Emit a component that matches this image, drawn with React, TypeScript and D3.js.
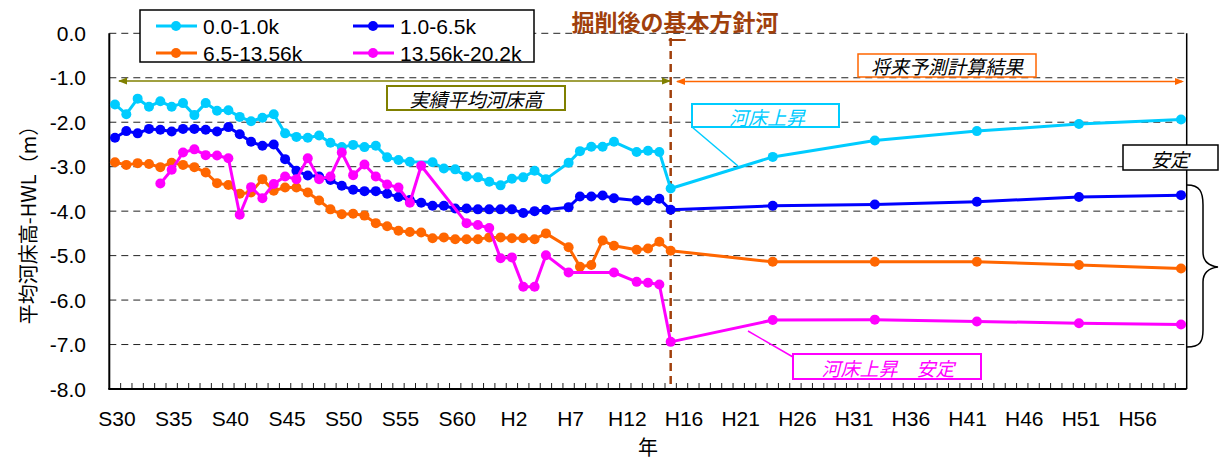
import * as d3 from 'd3';

// 95 yearly categories (S30 ... H60), labels every 5th category
const nCategories = 95;
const tickLabels = ['S30', 'S35', 'S40', 'S45', 'S50', 'S55', 'S60', 'H2', 'H7', 'H12', 'H16', 'H21', 'H26', 'H31', 'H36', 'H41', 'H46', 'H51', 'H56'];
const yTicks = [0, -1, -2, -3, -4, -5, -6, -7, -8];

// measured values, category index 0..49 (null = no survey)
const cyanMeasured = [
  -1.6, -1.82, -1.47, -1.65, -1.53, -1.65, -1.57, -1.84, -1.57, -1.74,
  -1.73, -1.88, -1.98, -1.9, -1.82, -2.25, -2.33, -2.35, -2.3, -2.46,
  -2.56, -2.51, -2.56, -2.53, -2.79, -2.85, -2.89, null, -2.9, -3.04,
  -3.06, -3.22, -3.24, -3.34, -3.42, -3.27, -3.24, -3.09, -3.28, null,
  -2.91, -2.65, -2.55, -2.55, -2.44, null, -2.67, -2.64, -2.67, -3.49,
];
const blueMeasured = [
  -2.35, -2.2, -2.25, -2.15, -2.17, -2.21, -2.15, -2.15, -2.17, -2.21,
  -2.11, -2.27, -2.44, -2.53, -2.5, -2.83, -3.09, -3.2, -3.22, -3.3,
  -3.43, -3.52, -3.55, -3.55, -3.61, -3.68, -3.75, -3.81, -3.88, -3.88,
  -3.94, -3.94, -3.96, -3.96, -3.96, -3.96, -4.04, -4.0, -3.97, null,
  -3.91, -3.67, -3.67, -3.65, -3.71, null, -3.76, -3.76, -3.72, -3.97,
];
const orangeMeasured = [
  -2.9, -2.96, -2.92, -2.94, -3.01, -2.91, -2.96, -3.01, -3.13, -3.37,
  -3.41, -3.61, -3.58, -3.28, -3.54, -3.47, -3.47, -3.58, -3.76, -3.96,
  -4.07, -4.06, -4.1, -4.27, -4.34, -4.44, -4.47, -4.48, -4.61, -4.59,
  -4.63, -4.63, -4.63, -4.59, -4.59, -4.61, -4.61, -4.63, -4.5, null,
  -4.81, -5.25, -5.21, -4.66, -4.78, null, -4.87, -4.84, -4.69, -4.89,
];
const magentaMeasured = [
  null, null, null, null, -3.38, -3.07, -2.68, -2.61, -2.74, -2.75,
  -2.81, -4.08, -3.46, -3.71, -3.39, -3.22, -3.28, -2.81, -3.28, -3.22,
  -2.68, -3.19, -2.95, -3.22, -3.4, -3.47, -3.81, -2.98, null, null,
  null, -4.27, -4.31, -4.38, -5.06, -5.04, -5.7, -5.7, -4.99, null,
  -5.38, null, null, null, -5.38, null, -5.59, -5.61, -5.65, -6.94,
];

// forecast results
const forecastIdx = [49, 58, 67, 76, 85, 94];
const cyanForecast = [-3.49, -2.78, -2.41, -2.2, -2.04, -1.94];
const blueForecast = [-3.97, -3.88, -3.85, -3.79, -3.68, -3.64];
const orangeForecast = [-4.89, -5.14, -5.14, -5.14, -5.21, -5.29];
const magentaForecast = [-6.94, -6.45, -6.44, -6.48, -6.52, -6.55];

const seriesNames = ['0.0-1.0k', '1.0-6.5k', '6.5-13.56k', '13.56k-20.2k'];
const seriesColors = ['#00CCFF', '#0000FF', '#FF6600', '#FF00FF'];

const JP = '"Noto Sans CJK JP", sans-serif';
const EN = '"Liberation Sans", Arial, sans-serif';

export default function App() {
  const W = 1222;
  const H = 459;
  const left = 109.3;
  const right = 1186.7;
  const top = 33.3;
  const bottom = 389;

  const x = d3.scaleBand<number>().domain(d3.range(nCategories)).range([left, right]).paddingInner(0).paddingOuter(0);
  const bw = x.bandwidth();
  const cx = (i: number) => (x(i) as number) + bw / 2;
  const y = d3.scaleLinear().domain([-8, 0]).range([bottom, top]);

  const measured = [cyanMeasured, blueMeasured, orangeMeasured, magentaMeasured];
  const forecast = [cyanForecast, blueForecast, orangeForecast, magentaForecast];

  const series = measured.map((m, s) => {
    const pts: [number, number][] = [];
    m.forEach((v, i) => {
      if (v !== null) pts.push([i, v]);
    });
    forecast[s].forEach((v, k) => {
      if (forecastIdx[k] !== 49) pts.push([forecastIdx[k], v]);
    });
    return pts;
  });

  const line = d3
    .line<[number, number]>()
    .x((d) => cx(d[0]))
    .y((d) => y(d[1]));

  const breakX = cx(49);
  const arrowY = 81;

  return (
    <svg width={W} height={H} style={{ position: 'absolute', left: 0, top: 0, background: '#fff' }}>
      {/* grid */}
      {yTicks.slice(0, 8).map((t) => (
        <line key={t} x1={left} x2={right} y1={y(t)} y2={y(t)} stroke="#222" strokeWidth={1} strokeDasharray="7,5" />
      ))}
      {/* y labels */}
      {yTicks.map((t) => (
        <text key={t} x={86} y={y(t)} textAnchor="end" dominantBaseline="central" fontFamily={EN} fontSize={21} fill="#000">
          {t.toFixed(1)}
        </text>
      ))}
      {/* x ticks */}
      {d3.range(1, nCategories).map((i) => (
        <line key={i} x1={x(i)} x2={x(i)} y1={bottom} y2={bottom - 6} stroke="#222" strokeWidth={1} />
      ))}
      {tickLabels.map((l, k) => (
        <text key={l} x={cx(k * 5) + 2} y={418} textAnchor="middle" dominantBaseline="central" fontFamily={EN} fontSize={21} fill="#000">
          {l}
        </text>
      ))}
      <text x={648} y={446} textAnchor="middle" dominantBaseline="central" fontFamily={JP} fontSize={20} fill="#000">
        年
      </text>
      <text
        transform={`translate(27,220) rotate(-90)`}
        textAnchor="middle"
        dominantBaseline="central"
        fontFamily={JP}
        fontSize={20}
        fill="#000"
      >
        平均河床高-HWL（m）
      </text>

      {/* axes */}
      <line x1={left} x2={left} y1={top} y2={bottom} stroke="#000" strokeWidth={2} />
      <line x1={left - 1} x2={right} y1={bottom} y2={bottom} stroke="#000" strokeWidth={2} />
      <line x1={right} x2={right} y1={top} y2={bottom} stroke="#000" strokeWidth={1.5} />

      {/* break line */}
      <line x1={breakX} x2={breakX} y1={38} y2={bottom} stroke="#A0400C" strokeWidth={2.5} strokeDasharray="8,5" />
      <line x1={breakX - 2} x2={breakX + 15} y1={40} y2={40} stroke="#A0400C" strokeWidth={2} />
      <text x={675} y={21} textAnchor="middle" dominantBaseline="central" fontFamily={JP} fontSize={23} fontWeight="bold" fill="#A0400C">
        掘削後の基本方針河
      </text>

      {/* period arrows */}
      <line x1={119} x2={670} y1={arrowY} y2={arrowY} stroke="#808000" strokeWidth={1.5} />
      <polygon points={`118,${arrowY} 127,${arrowY - 3.5} 127,${arrowY + 3.5}`} fill="#808000" />
      <polygon points={`671,${arrowY} 662,${arrowY - 3.5} 662,${arrowY + 3.5}`} fill="#808000" />
      <line x1={677} x2={1182} y1={arrowY + 0.5} y2={arrowY + 0.5} stroke="#FF6600" strokeWidth={1.5} />
      <polygon points={`676,${arrowY + 0.5} 685,${arrowY - 3} 685,${arrowY + 4}`} fill="#FF6600" />
      <polygon points={`1184,${arrowY + 0.5} 1175,${arrowY - 3} 1175,${arrowY + 4}`} fill="#FF6600" />

      <rect x={387} y={86} width={178} height={24} fill="#fff" stroke="#808000" strokeWidth={2} />
      <text x={476} y={98} textAnchor="middle" dominantBaseline="central" fontFamily={JP} fontSize={19} fontStyle="italic" fill="#000">
        実績平均河床高
      </text>
      <rect x={858} y={54} width={178} height={23} fill="#fff" stroke="#FF6600" strokeWidth={1.5} />
      <text x={947} y={65.5} textAnchor="middle" dominantBaseline="central" fontFamily={JP} fontSize={19} fontStyle="italic" fill="#000">
        将来予測計算結果
      </text>

      {/* series */}
      {series.map((pts, s) => (
        <g key={s}>
          <path d={line(pts) as string} fill="none" stroke={seriesColors[s]} strokeWidth={3} strokeLinejoin="round" />
          {pts.map((p) => (
            <circle key={p[0]} cx={cx(p[0])} cy={y(p[1])} r={5} fill={seriesColors[s]} />
          ))}
        </g>
      ))}

      {/* callouts */}
      <line x1={692} y1={127} x2={738} y2={166} stroke="#00CCFF" strokeWidth={1.5} />
      <rect x={692} y={104} width={147} height={23} fill="#fff" stroke="#00CCFF" strokeWidth={2} />
      <text x={767} y={116} textAnchor="middle" dominantBaseline="central" fontFamily={JP} fontSize={19} fontStyle="italic" fill="#00CCFF">
        河床上昇
      </text>

      <line x1={793} y1={357} x2={748} y2={331} stroke="#FF00FF" strokeWidth={1.5} />
      <rect x={793} y={354} width={188} height={25} fill="#fff" stroke="#FF00FF" strokeWidth={2} />
      <text x={888} y={367} textAnchor="middle" dominantBaseline="central" fontFamily={JP} fontSize={19} fontStyle="italic" fill="#FF00FF">
        河床上昇　安定
      </text>

      <rect x={1123} y={145} width={95} height={25} fill="#fff" stroke="#000" strokeWidth={1.5} />
      <text x={1170} y={158} textAnchor="middle" dominantBaseline="central" fontFamily={JP} fontSize={19} fontStyle="italic" fill="#000">
        安定
      </text>
      <path
        d="M1187,185 C1200,185 1203,192 1203,205 L1203,252 C1203,262 1210,266 1218,267 C1210,268 1203,272 1203,282 L1203,330 C1203,342 1200,347 1187,347"
        fill="none"
        stroke="#000"
        strokeWidth={1.5}
      />

      {/* legend */}
      <rect x={140} y={10} width={394} height={52} fill="#fff" stroke="#000" strokeWidth={1.5} />
      {seriesNames.map((n, s) => {
        const lx = s % 2 === 0 ? 156 : 353;
        const ly = s < 2 ? 26 : 53;
        return (
          <g key={n}>
            <line x1={lx} x2={lx + 41} y1={ly} y2={ly} stroke={seriesColors[s]} strokeWidth={3} />
            <circle cx={lx + 20} cy={ly} r={5} fill={seriesColors[s]} />
            <text x={lx + 47} y={ly} dominantBaseline="central" fontFamily={EN} fontSize={21} fill="#000">
              {n}
            </text>
          </g>
        );
      })}
    </svg>
  );
}
